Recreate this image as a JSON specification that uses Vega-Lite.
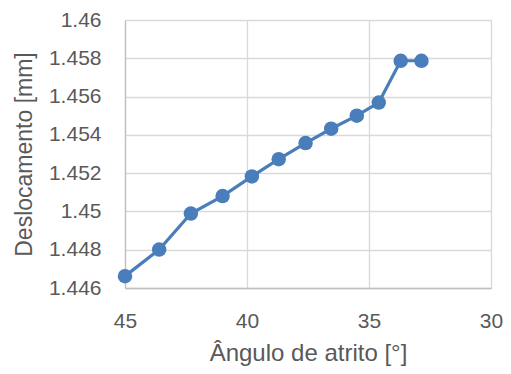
{
  "$schema": "https://vega.github.io/schema/vega-lite/v6.json",
  "width": 366,
  "height": 268,
  "autosize": "none",
  "padding": {"left": 125, "top": 20, "right": 20, "bottom": 86},
  "background": "white",
  "config": {
    "view": {"stroke": null},
    "font": "Liberation Sans",
    "axis": {
      "labelColor": "#595959",
      "titleColor": "#595959",
      "labelFontSize": 21,
      "titleFontSize": 23,
      "titleFontWeight": "normal",
      "gridColor": "#d9d9d9",
      "gridWidth": 1.3,
      "domainColor": "#bfbfbf",
      "domainWidth": 1.3,
      "ticks": false,
      "labelFlush": false
    }
  },
  "data": {
    "values": [
      {"angulo": 45.0, "desloc": 1.44662},
      {"angulo": 43.6, "desloc": 1.44801},
      {"angulo": 42.3, "desloc": 1.44989},
      {"angulo": 41.0, "desloc": 1.4508},
      {"angulo": 39.8, "desloc": 1.45183},
      {"angulo": 38.7, "desloc": 1.45273},
      {"angulo": 37.6, "desloc": 1.45357},
      {"angulo": 36.55, "desloc": 1.45432},
      {"angulo": 35.5, "desloc": 1.455},
      {"angulo": 34.6, "desloc": 1.45569},
      {"angulo": 33.7, "desloc": 1.45787},
      {"angulo": 32.85, "desloc": 1.45787}
    ]
  },
  "encoding": {
    "x": {
      "field": "angulo",
      "type": "quantitative",
      "scale": {"domain": [45, 30], "nice": false, "zero": false},
      "axis": {
        "values": [45, 40, 35, 30],
        "title": "Ângulo de atrito [°]",
        "titleFontSize": 24,
        "labelPadding": 22,
        "titlePadding": 10,
        "labelFlush": false,
        "domain": true
      }
    },
    "y": {
      "field": "desloc",
      "type": "quantitative",
      "scale": {"domain": [1.446, 1.46], "nice": false, "zero": false},
      "axis": {
        "values": [1.446, 1.448, 1.45, 1.452, 1.454, 1.456, 1.458, 1.46],
        "format": "~g",
        "title": "Deslocamento [mm]",
        "titleFontSize": 23,
        "labelPadding": 24,
        "titlePadding": 12,
        "labelFlush": false,
        "domain": true
      }
    }
  },
  "layer": [
    {"mark": {"type": "line", "color": "#4a7ebb", "strokeWidth": 3.2}},
    {"mark": {"type": "point", "filled": true, "opacity": 1, "color": "#4a7ebb", "size": 210}}
  ]
}
